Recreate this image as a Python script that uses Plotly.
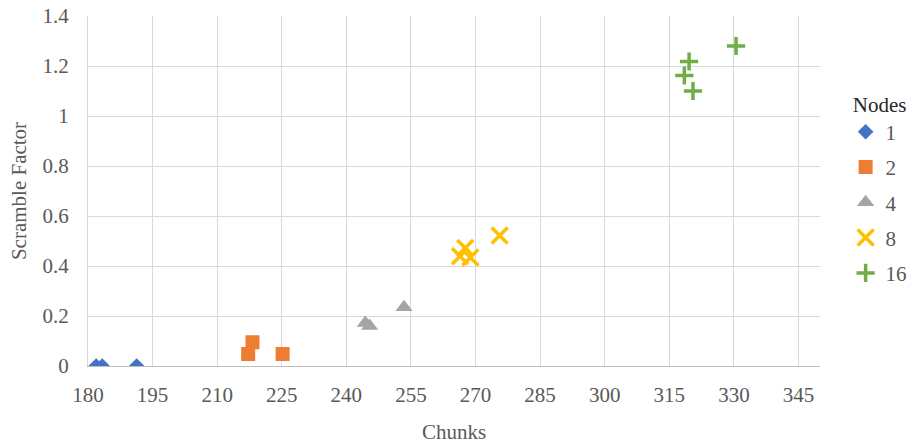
import plotly.graph_objects as go

series_names = ["1", "2", "4", "8", "16"]
chunks = [
    [181.9, 183.3, 191.3],
    [217.2, 218.2, 225.2],
    [244.4, 245.4, 253.4],
    [266.4, 267.6, 268.8, 275.6],
    [318.5, 319.6, 320.5, 330.5],
]
scramble = [
    [0.0, 0.0, 0.0],
    [0.048, 0.095, 0.048],
    [0.172, 0.16, 0.235],
    [0.439, 0.472, 0.434, 0.522],
    [1.162, 1.218, 1.10, 1.28],
]
x_ticks = [180, 195, 210, 225, 240, 255, 270, 285, 300, 315, 330, 345]
y_ticks = [0, 0.2, 0.4, 0.6, 0.8, 1, 1.2, 1.4]
y_tick_text = ["0", "0.2", "0.4", "0.6", "0.8", "1", "1.2", "1.4"]

colors = ["#4472C4", "#ED7D31", "#A5A5A5", "#FFC000", "#70AD47"]
symbols = ["diamond", "square", "triangle-up", "x-thin", "cross-thin"]
sizes = [12, 14, 15, 16, 13]

fig = go.Figure()
for i, name in enumerate(series_names):
    thin = symbols[i].endswith("thin")
    fig.add_trace(go.Scatter(
        x=chunks[i], y=scramble[i], mode="markers", name=name,
        legendgroup=name,
        marker=dict(symbol=symbols[i], size=sizes[i], color=colors[i],
                    line=dict(width=3.5 if thin else 0, color=colors[i])),
    ))

font_family = "Liberation Serif"
fs = 21
fig.update_layout(
    width=921, height=445,
    margin=dict(l=88, r=101, t=16, b=79, autoexpand=False),
    paper_bgcolor="white", plot_bgcolor="white",
    font=dict(family=font_family, size=fs, color="#595959"),
    legend=dict(
        title=dict(text="&nbsp;Nodes", font=dict(family=font_family, size=fs, color="#262626")),
        x=1.035, xanchor="left", y=0.805, yanchor="top",
        font=dict(family=font_family, size=fs, color="#595959"),
        tracegroupgap=5, itemwidth=30,
    ),
    xaxis=dict(
        range=[180, 350], tickvals=x_ticks, ticktext=[str(v) for v in x_ticks],
        showgrid=True, gridcolor="#D9D9D9", gridwidth=1,
        showline=True, linecolor="#BFBFBF", linewidth=1,
        zeroline=False, ticks="", ticklen=0, automargin=False,
        tickfont=dict(family=font_family, size=fs, color="#595959"),
        title=dict(text="Chunks", standoff=18, font=dict(family=font_family, size=fs, color="#595959")),
    ),
    yaxis=dict(
        range=[0, 1.4], tickvals=y_ticks, ticktext=y_tick_text,
        showgrid=True, gridcolor="#D9D9D9", gridwidth=1,
        showline=True, linecolor="#D9D9D9", linewidth=1,
        zeroline=False, ticks="", ticklen=0, automargin=False,
        tickfont=dict(family=font_family, size=fs, color="#595959"),
        title=dict(text="Scramble Factor", standoff=10, font=dict(family=font_family, size=fs, color="#595959")),
    ),
)
fig.update_xaxes(ticklabelstandoff=10)
fig.update_yaxes(ticklabelstandoff=14)

fig.write_html("out.html", config={"displayModeBar": False},
               post_script="document.body.style.margin='0';")
